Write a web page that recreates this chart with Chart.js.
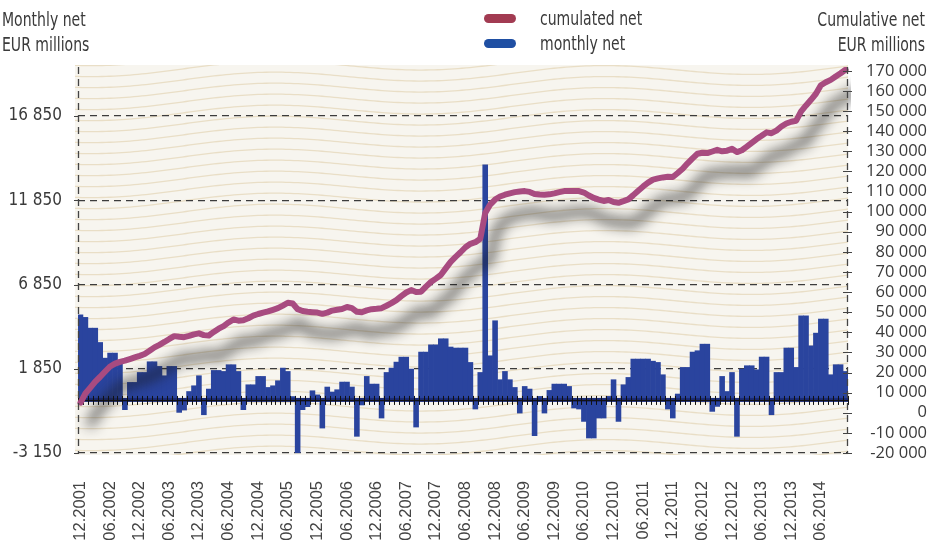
<!DOCTYPE html>
<html>
<head>
<meta charset="utf-8">
<script src="https://cdn.jsdelivr.net/npm/chart.js@4"></script>
<style>
body { margin: 0; background: #fff; }
#wrap { position: relative; width: 927px; height: 541px; overflow: hidden; }
#myChart { position: absolute; left: 0; top: 0; }
.t { position: absolute; font-family: "DejaVu Sans Condensed", "DejaVu Sans", sans-serif; font-size: 20px; color: #3a3a3a; line-height: 24px; white-space: nowrap; transform: scaleX(0.78); transform-origin: left top; }
.r { transform-origin: right top; text-align: right; }
.sw { position: absolute; width: 32px; height: 9px; border-radius: 5px; }
</style>
</head>
<body>
<div id="wrap">
  <canvas id="myChart" width="927" height="541"></canvas>
  <div class="t" style="left:2px;top:7px">Monthly net</div>
  <div class="t" style="left:2px;top:32px">EUR millions</div>
  <div class="t r" style="right:2px;top:7px">Cumulative net</div>
  <div class="t r" style="right:2px;top:32px">EUR millions</div>
  <div class="sw" style="left:484px;top:14px;background:#a23b52"></div>
  <div class="t" style="left:540px;top:6px">cumulated net</div>
  <div class="sw" style="left:484px;top:39px;background:#1f4fa3"></div>
  <div class="t" style="left:540px;top:31px">monthly net</div>
</div>
<script>
// monthly values from 12.2001, EUR millions
const monthlyNet = [
  5050, 4900, 4260, 4260, 3410, 2480, 2780, 2780, 2290, -580,
  1040, 1040, 1630, 1630, 2265, 2265, 1990, 1435, 1990, 1990,
  -740, -600, 500, 840, 1435, -880, 645, 1750, 1750, 1690,
  2090, 2090, 1690, -580, 900, 900, 1395, 1395, 740,
  840, 1140, 1890, 1690, 200, -3250, -580, -400, 545, 300, -1670,
  765, 470, 605, 1060, 1060, 765, -2160, -300, 1395, 940,
  940, -1075, 1630, 1890, 2245, 2540, 2540, 1830, -1610, 2840,
  2840, 3270, 3270, 3630, 3630, 3140, 3080,
  3080, 3080, 2225, -540, 1630, 13950, 2620, 4700, 1200, 1690, 1200, 740, -780,
  800, 645, -2120, 210, -780, 565, 940, 940, 940, 800,
  -480, -540, -1275, -2260, -2260, -1075, -1075, 210, 1200, -1275,
  900, 1335, 2425, 2425, 2425, 2425, 2300,
  2225, 1495, -540, -1075, 350, 1930, 1930, 2840, 2920, 3310, 3310, -680, -385,
  1395, 500, 1630, -2160, 1830, 2030, 2030, 1790, 2545, 2545,
  -880, 1630, 1630, 3080, 3080, 1930, 4990, 4990, 3210, 3965, 4800, 4800, 1495, 2090, 2090, 1690
];
const cumulatedNet = [
  5000, 9600, 12500, 15500, 17900, 20500, 23000, 24400, 25300, 25900,
  26700, 27500, 28300, 29200, 30800, 32500, 33800, 35200, 36700, 38100,
  37800, 37600, 38200, 39000, 39500, 38600, 38400, 40200, 41800, 43100,
  44900, 46400, 45800, 46000, 47000, 48300, 49100, 49800, 50400, 51200,
  52000, 53300, 54700, 54300, 51500, 50600, 50200, 50000, 49800, 49200,
  49800, 50800, 51200, 51600, 52600, 52000, 50200, 50000, 50900, 51500,
  51700, 52000, 53200, 54500, 56000, 58000, 59800, 61000, 60000, 60200,
  62700, 65000, 66700, 68500, 71800, 75000, 77500, 79800, 82300, 84000,
  84800, 86500, 99300, 103500, 106000, 107500, 108400, 109100, 109700, 110000,
  110200, 109800, 108800, 108500, 108400, 108600, 109100, 109700, 110200, 110300,
  110300, 110200, 109500, 108000, 106800, 106000, 105300, 105800, 104800, 104400,
  105200, 106100, 108200, 110400, 112500, 114400, 115900, 116500, 117000, 117300,
  117200, 119200, 121300, 124000, 126500, 128800, 129300, 129100, 129900, 130700,
  130000, 130300, 131200, 129600, 130500, 132300, 134200, 136100, 137700, 139400,
  139000, 140300, 142300, 143800, 144700, 145200, 149800, 152800, 155600, 158600,
  162800, 164300, 165500, 167200, 168800, 170500
];
const leftTicks = [-3150, 1850, 6850, 11850, 16850];
const rightTicks = [-20000, -10000, 0, 10000, 20000, 30000, 40000, 50000, 60000, 70000,
  80000, 90000, 100000, 110000, 120000, 130000, 140000, 150000, 160000, 170000];

// month labels mm.yyyy starting 12.2001
const months = [];
for (let i = 0; i < monthlyNet.length; i++) {
  const m = (11 + i) % 12 + 1;
  const y = 2001 + Math.floor((11 + i) / 12);
  months.push((m < 10 ? '0' : '') + m + '.' + y);
}

function fmt(v) {
  return String(v).replace(/\B(?=(\d{3})+(?!\d))/g, ' ');
}

const paper = {
  id: 'paper',
  beforeDraw(chart) {
    const {ctx, chartArea: a} = chart;
    ctx.save();
    ctx.fillStyle = '#f7f5ef';
    ctx.fillRect(a.left - 3, a.top - 2, a.width + 3, a.height + 4);
    ctx.beginPath();
    ctx.rect(a.left - 3, a.top - 2, a.width + 3, a.height + 4);
    ctx.clip();
    ctx.strokeStyle = '#e9dec6';
    ctx.lineWidth = 1.3;
    for (let y0 = a.top - 40; y0 < a.bottom + 40; y0 += 11) {
      ctx.beginPath();
      for (let x = a.left - 4; x <= a.right + 4; x += 4) {
        const y = y0 + 6 * Math.sin((x - a.left + 60) / 330 * 2 * Math.PI) - (x - a.left) * 0.02;
        if (x === a.left - 4) ctx.moveTo(x, y); else ctx.lineTo(x, y);
      }
      ctx.stroke();
    }
    ctx.restore();
  }
};

const lineShadow = {
  id: 'lineShadow',
  beforeDatasetDraw(chart, args) {
    if (args.index !== 1) return;
    const ctx = chart.ctx;
    ctx.save();
    ctx.shadowColor = 'rgba(25,25,25,0.95)';
    ctx.shadowBlur = 13;
    ctx.shadowOffsetX = 10;
    ctx.shadowOffsetY = 21;
  },
  afterDatasetDraw(chart, args) {
    const {ctx, chartArea: a} = chart;
    if (args.index === 1) { ctx.restore(); return; }
    // zero line with monthly ticks, drawn over the bars
    const y = chart.scales.yLeft.getPixelForValue(0);
    const n = monthlyNet.length;
    ctx.save();
    ctx.fillStyle = '#1b2c78';
    ctx.fillRect(a.left, y - 2, a.width, 4);
    ctx.strokeStyle = '#111';
    ctx.lineWidth = 1;
    ctx.beginPath();
    ctx.moveTo(a.left, y + 0.5);
    ctx.lineTo(a.right, y + 0.5);
    for (let i = 0; i <= n; i++) {
      const x = Math.round(a.left + i * a.width / n) + 0.5;
      ctx.moveTo(x, y - 4);
      ctx.lineTo(x, y + 5);
    }
    ctx.stroke();
    ctx.restore();
  }
};

const axisLines = {
  id: 'axisLines',
  afterDraw(chart) {
    const {ctx, chartArea: a} = chart;
    const r = chart.scales.yRight;
    const l = chart.scales.yLeft;
    ctx.save();
    ctx.strokeStyle = '#444';
    ctx.lineWidth = 1.3;
    ctx.setLineDash([7, 5]);
    ctx.beginPath();
    ctx.moveTo(a.left + 0.5, a.top);
    ctx.lineTo(a.left + 0.5, a.bottom);
    ctx.moveTo(a.right - 0.5, a.top);
    ctx.lineTo(a.right - 0.5, a.bottom);
    ctx.stroke();
    ctx.setLineDash([]);
    ctx.lineWidth = 1;
    ctx.beginPath();
    rightTicks.forEach(v => {
      const y = Math.round(r.getPixelForValue(v)) + 0.5;
      ctx.moveTo(a.right - 5, y);
      ctx.lineTo(a.right + 4, y);
    });
    leftTicks.forEach(v => {
      const y = Math.round(l.getPixelForValue(v)) + 0.5;
      ctx.moveTo(a.left - 4, y);
      ctx.lineTo(a.left + 1, y);
    });
    ctx.stroke();
    ctx.restore();
  }
};

const ctx = document.getElementById('myChart');
new Chart(ctx, {
  type: 'bar',
  data: {
    labels: months,
    datasets: [{
      label: 'monthly net',
      data: monthlyNet,
      backgroundColor: '#2a449e',
      borderWidth: 0,
      barPercentage: 1,
      categoryPercentage: 1,
      yAxisID: 'yLeft',
      order: 1
    }, {
      type: 'line',
      label: 'cumulated net',
      data: cumulatedNet,
      borderColor: '#a84b80',
      borderWidth: 6,
      pointRadius: 0,
      borderCapStyle: 'round',
      borderJoinStyle: 'round',
      yAxisID: 'yRight',
      order: 0
    }]
  },
  options: {
    responsive: false,
    animation: false,
    layout: { padding: { top: 67, left: 0, right: 0, bottom: 0 } },
    plugins: { legend: { display: false }, tooltip: { enabled: false } },
    scales: {
      x: {
        grid: { display: false, drawTicks: false },
        border: { display: false },
        afterFit: s => { s.height = 88; },
        ticks: {
          autoSkip: false,
          maxRotation: 90,
          minRotation: 90,
          padding: 28,
          color: '#444',
          font: { family: '"Liberation Sans", Arial, sans-serif', size: 16.5 },
          callback: (v, i) => (i % 6 === 0 ? months[i] : null)
        }
      },
      yLeft: {
        position: 'left',
        min: -3150,
        max: 19760,
        afterBuildTicks: s => { s.ticks = leftTicks.map(v => ({ value: v })); },
        afterFit: s => { s.width = 78; },
        grid: { color: '#3c3c3c', lineWidth: 1.2, drawTicks: false },
        border: { display: false, dash: [7, 5] },
        ticks: {
          padding: 16,
          autoSkip: false,
          color: '#3a3a3a',
          font: { family: '"DejaVu Sans Condensed", "DejaVu Sans", sans-serif', size: 17 },
          callback: v => fmt(v)
        }
      },
      yRight: {
        position: 'right',
        min: -20000,
        max: 171900,
        afterBuildTicks: s => { s.ticks = rightTicks.map(v => ({ value: v })); },
        afterFit: s => { s.width = 79; },
        grid: { drawOnChartArea: false, drawTicks: false },
        border: { display: false },
        ticks: {
          padding: 13,
          autoSkip: false,
          crossAlign: 'far',
          color: '#3a3a3a',
          font: { family: '"Open Sans", sans-serif', size: 16.5 },
          callback: v => fmt(v)
        }
      }
    }
  },
  plugins: [paper, lineShadow, axisLines]
});
</script>
</body>
</html>
